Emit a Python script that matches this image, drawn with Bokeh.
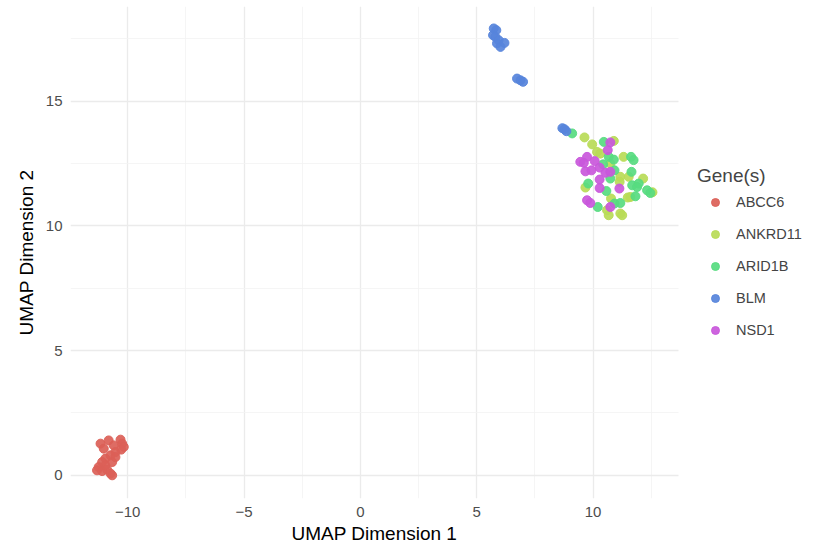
from bokeh.plotting import figure
from bokeh.models import Legend, LegendItem, FixedTicker, Range1d, BoxAnnotation, Title
from bokeh.embed import file_html
from bokeh.resources import INLINE

genes = ["ABCC6", "ANKRD11", "ARID1B", "BLM", "NSD1"]
colors = ["#db5f57", "#b9db57", "#57db80", "#5784db", "#c957db"]

x_ticks = [-10, -5, 0, 5, 10]
x_minor = [-7.5, -2.5, 2.5, 7.5, 12.5]
y_ticks = [0, 5, 10, 15]
y_minor = [2.5, 7.5, 12.5, 17.5]

abcc6_x = [-11.17, -11.03, -10.82, -10.60, -10.31, -10.24, -10.17, -10.28, -10.53, -10.74,
           -10.96, -11.10, -11.25, -11.32, -11.10, -10.89, -10.74, -10.67, -10.96, -10.67, -10.53]
abcc6_y = [1.27, 1.07, 1.40, 1.20, 1.43, 1.27, 1.14, 1.03, 0.93, 0.80,
           0.67, 0.53, 0.33, 0.20, 0.17, 0.23, 0.07, 0.00, 0.40, 0.53, 0.73]

ankrd11_x = [9.63, 9.96, 10.89, 10.17, 10.31, 11.31, 10.74, 11.17, 11.14, 11.53,
             12.15, 9.67, 11.60, 11.49, 10.77, 10.60, 10.67, 11.17, 11.25, 12.55]
ankrd11_y = [13.55, 13.27, 13.41, 12.97, 12.90, 12.77, 12.50, 11.97, 11.77, 11.97,
             11.90, 11.54, 11.16, 11.14, 11.10, 10.63, 10.43, 10.50, 10.43, 11.35]

arid1b_x = [9.10, 10.46, 10.67, 11.63, 11.74, 10.43, 10.89, 10.92, 11.65, 10.74, 9.79,
            10.57, 11.68, 11.96, 11.89, 12.32, 12.46, 11.82, 10.20, 10.92, 11.17]
arid1b_y = [13.71, 13.37, 12.77, 12.77, 12.64, 12.47, 12.66, 12.23, 12.17, 11.90, 11.70,
            11.40, 11.63, 11.70, 11.56, 11.43, 11.32, 11.19, 10.76, 10.90, 10.92]

blm_x = [5.73, 5.84, 5.70, 5.80, 5.94, 5.87, 6.02, 6.19, 6.73, 6.88, 6.99, 8.68, 8.77, 8.85]
blm_y = [17.92, 17.85, 17.65, 17.58, 17.45, 17.32, 17.18, 17.34, 15.91, 15.84, 15.78, 13.92, 13.88, 13.80]

nsd1_x = [10.74, 10.63, 9.74, 9.45, 9.60, 10.07, 10.28, 9.67, 9.93, 10.53, 10.74,
          10.28, 10.28, 11.13, 9.74, 9.88, 10.74]
nsd1_y = [13.35, 13.04, 12.77, 12.57, 12.53, 12.60, 12.34, 12.19, 12.23, 12.13, 12.17,
          11.86, 11.52, 11.50, 11.03, 10.92, 10.76]

series_x = [abcc6_x, ankrd11_x, arid1b_x, blm_x, nsd1_x]
series_y = [abcc6_y, ankrd11_y, arid1b_y, blm_y, nsd1_y]

FONT = "Liberation Sans"
X_START, X_PANEL_END = -12.46, 13.67
PX_PER_UNIT = 608 / (X_PANEL_END - X_START)
FRAME_W = 744
X_END = X_START + FRAME_W / PX_PER_UNIT

p = figure(frame_width=FRAME_W, frame_height=492, output_backend="svg", toolbar_location=None,
           x_range=Range1d(X_START, X_END), y_range=Range1d(-0.93, 18.8),
           min_border_left=70, min_border_right=0, min_border_top=6, min_border_bottom=0,
           y_axis_label="UMAP Dimension 2")
p.outline_line_color = None
p.background_fill_color = "white"
p.border_fill_color = "white"

p.xaxis[0].ticker = FixedTicker(ticks=x_ticks, minor_ticks=x_minor)
p.yaxis[0].ticker = FixedTicker(ticks=y_ticks, minor_ticks=y_minor)

for ax in (p.xaxis[0], p.yaxis[0]):
    ax.axis_line_color = None
    ax.major_tick_line_color = None
    ax.minor_tick_line_color = None
    ax.major_tick_out = 0
    ax.major_tick_in = 0
    ax.minor_tick_out = 0
    ax.major_label_text_font = FONT
    ax.major_label_text_font_size = "15px"
    ax.major_label_text_color = "#4d4d4d"
    ax.major_label_standoff = 8
    ax.axis_label_text_font = FONT
    ax.axis_label_text_font_size = "19px"
    ax.axis_label_text_font_style = "normal"
    ax.axis_label_text_color = "black"
p.yaxis.axis_label_standoff = 6

# x-axis title, centred under the plotting panel (not the legend strip)
p.add_layout(Title(text="UMAP Dimension 1", align="left", offset=221,
                   text_font=FONT, text_font_size="19px", text_font_style="normal",
                   text_color="black", standoff=2), "below")

for g in (p.xgrid[0], p.ygrid[0]):
    g.grid_line_color = "#ebebeb"
    g.grid_line_width = 1.3
    g.minor_grid_line_color = "#f2f2f2"
    g.minor_grid_line_width = 0.8

items = []
for name, col, xs, ys in zip(genes, colors, series_x, series_y):
    r = p.scatter(xs, ys, size=9, color=col, alpha=0.92)
    items.append(LegendItem(label=name, renderers=[r]))

# blank strip to the right of the plotting panel, where the legend sits
p.add_layout(BoxAnnotation(left=X_PANEL_END, fill_color="white", fill_alpha=1.0,
                           line_color=None, level="underlay"))

legend = Legend(items=items, title="Gene(s)", location=(627, 158),
                title_text_font=FONT, title_text_font_size="19px", title_text_font_style="normal",
                label_text_font=FONT, label_text_font_size="14.5px",
                glyph_width=36, glyph_height=20, label_height=20, label_standoff=3,
                spacing=12, title_standoff=5, padding=4, margin=0,
                border_line_color=None, background_fill_alpha=0)
p.add_layout(legend, "center")

open("out.html", "w").write(file_html(p, INLINE))
